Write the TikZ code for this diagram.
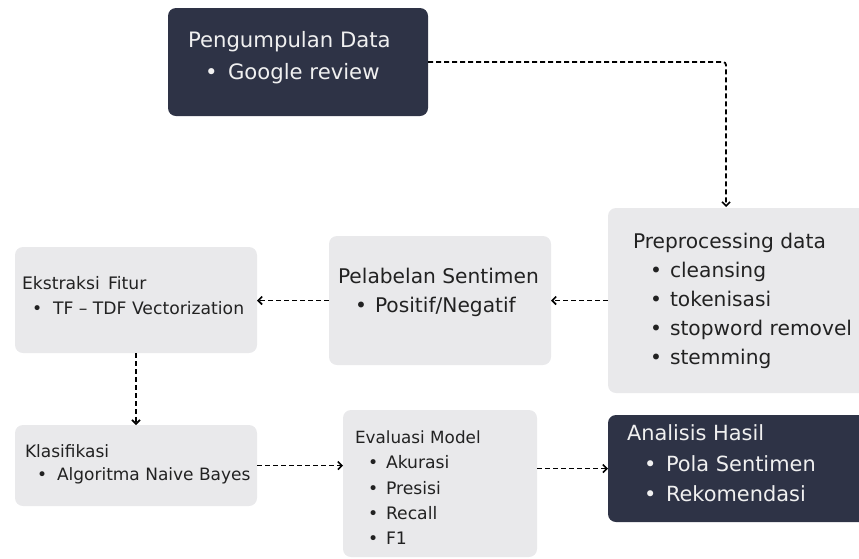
\documentclass[tikz,border=0pt]{standalone}
\usepackage{fontspec}
\setmainfont{DejaVu Sans}
\usetikzlibrary{arrows.meta}
\definecolor{darkbox}{HTML}{2E3346}
\definecolor{lightbox}{HTML}{E9E9EB}
\definecolor{darktext}{HTML}{222222}
\definecolor{lighttext}{HTML}{F0F0F0}
\newcommand{\fs}[1]{\fontsize{#1}{#1}\selectfont}
\begin{document}
\begin{tikzpicture}[x=1pt,y=-1pt,
  boxbase/.style={rectangle, rounded corners=8pt, inner sep=0pt, outer sep=0pt, anchor=north west},
  darkb/.style={boxbase, fill=darkbox},
  lightb/.style={boxbase, fill=lightbox},
  lbl/.style={anchor=base west, inner sep=0pt, outer sep=0pt},
  dk/.style={lbl, text=darktext},
  wt/.style={lbl, text=lighttext},
  conn/.style={draw=black, line width=1.8pt, dash pattern=on 5pt off 3pt, -{Straight Barb[length=4pt,width=8pt,line width=1.6pt]}}
]
\useasboundingbox (0,0) rectangle (859,558);
% boxes
\node[darkb, minimum width=260pt, minimum height=108pt] (b1) at (168,8) {};
\node[lightb, minimum width=270pt, minimum height=185pt] (pre) at (608,208) {};
\node[lightb, minimum width=222pt, minimum height=129pt] (pel) at (329,236) {};
\node[lightb, minimum width=242pt, minimum height=106pt] (ek) at (15,247) {};
\node[lightb, minimum width=242pt, minimum height=81pt] (kl) at (15,425) {};
\node[lightb, minimum width=194pt, minimum height=147pt] (ev) at (343,410) {};
\node[darkb, minimum width=270pt, minimum height=107pt] (an) at (608,415) {};

% texts: Pengumpulan Data
\node[wt] (t1) at (188,47) {\fs{21.2}Pengumpulan Data};
\node[wt] (t1b) at (205,79) {\fs{21.2}•};
\node[wt] (t1c) at (228,79) {\fs{21.2}Google review};
% Preprocessing
\node[dk] (t2) at (633,248) {\fs{20.2}Preprocessing data};
\node[dk] (t2b1) at (650,277) {\fs{20.2}•};
\node[dk] (t2c1) at (670,277) {\fs{20.2}cleansing};
\node[dk] (t2b2) at (650,306) {\fs{20.2}•};
\node[dk] (t2c2) at (670,306) {\fs{20.2}tokenisasi};
\node[dk] (t2b3) at (650,335) {\fs{20.2}•};
\node[dk] (t2c3) at (670,335) {\fs{20.2}stopword removel};
\node[dk] (t2b4) at (650,364) {\fs{20.2}•};
\node[dk] (t2c4) at (670,364) {\fs{20.2}stemming};
% Pelabelan
\node[dk] (t3) at (338,283) {\fs{20.2}Pelabelan Sentimen};
\node[dk] (t3b) at (355,312) {\fs{20.2}•};
\node[dk] (t3c) at (375,312) {\fs{20.2}Positif/Negatif};
% Ekstraksi
\node[dk] (t4) at (22,289) {\fs{17.2}Ekstraksi\, Fitur};
\node[dk] (t4b) at (32,314) {\fs{17.2}•};
\node[dk] (t4c) at (53,314) {\fs{17.2}TF – TDF Vectorization};
% Klasifikasi
\node[dk] (t5) at (25,457) {\fs{17}Klasifikasi};
\node[dk] (t5b) at (37,480) {\fs{17}•};
\node[dk] (t5c) at (57,480) {\fs{17}Algoritma Naive Bayes};
% Evaluasi
\node[dk] (t6) at (355,443) {\fs{16.8}Evaluasi Model};
\node[dk] (t6b1) at (368,468) {\fs{17.2}•};
\node[dk] (t6c1) at (386,468) {\fs{17.2}Akurasi};
\node[dk] (t6b2) at (368,494) {\fs{17.2}•};
\node[dk] (t6c2) at (386,494) {\fs{17.2}Presisi};
\node[dk] (t6b3) at (368,519) {\fs{17.2}•};
\node[dk] (t6c3) at (386,519) {\fs{17.2}Recall};
\node[dk] (t6b4) at (368,544) {\fs{17.2}•};
\node[dk] (t6c4) at (386,544) {\fs{17.2}F1};
% Analisis
\node[wt] (t7) at (627,440) {\fs{20.9}Analisis Hasil};
\node[wt] (t7b1) at (644,471) {\fs{20.9}•};
\node[wt] (t7c1) at (666,471) {\fs{20.9}Pola Sentimen};
\node[wt] (t7b2) at (644,501) {\fs{20.9}•};
\node[wt] (t7c2) at (666,501) {\fs{20.9}Rekomendasi};

% connectors
\coordinate (c1) at (726,207);
\draw[conn, rounded corners=3pt] (b1.east) -| (c1);
\draw[conn] (pre.west) -- (pre.west -| pel.east);
\draw[conn] (pel.west) -- (pel.west -| ek.east);
\draw[conn] (ek.south) -- (kl.north);
\draw[conn] (kl.east) -- (kl.east -| ev.west);
\draw[conn] (an.west -| ev.east) -- (an.west);
\end{tikzpicture}
\end{document}
